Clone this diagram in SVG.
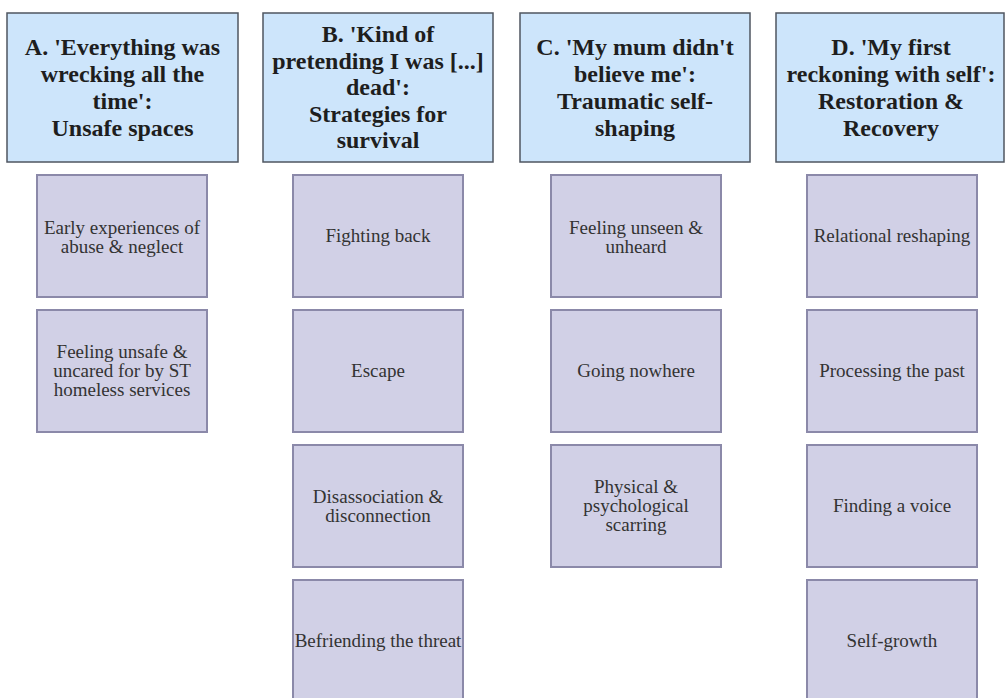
<svg xmlns="http://www.w3.org/2000/svg" width="1005" height="698" viewBox="0 0 1005 698">
<style>
.hdr{fill:#cde5fb;stroke:#4f5660;stroke-width:1.5}
.sub{fill:#d1d0e6;stroke:#8b89a9;stroke-width:2}
.ht{font-family:"Liberation Serif","Times New Roman",serif;font-weight:bold;font-size:24px;fill:#1e1e1e;text-anchor:middle}
.st{font-family:"Liberation Serif","Times New Roman",serif;font-size:19px;fill:#333;text-anchor:middle}
</style>
<rect width="1005" height="698" fill="#ffffff"/>
<g id="headerA"><rect class="hdr" x="7" y="13" width="231" height="149"/>
<text class="ht"><tspan x="122.5" y="55">A. 'Everything was</tspan><tspan x="122.5" y="82">wrecking all the</tspan><tspan x="122.5" y="109">time':</tspan><tspan x="122.5" y="136">Unsafe spaces</tspan></text></g>
<g id="headerB"><rect class="hdr" x="263" y="13" width="230" height="149"/>
<text class="ht"><tspan x="378" y="42">B. 'Kind of</tspan><tspan x="378" y="68.5">pretending I was [...]</tspan><tspan x="378" y="95">dead':</tspan><tspan x="378" y="121.5">Strategies for</tspan><tspan x="378" y="148">survival</tspan></text></g>
<g id="headerC"><rect class="hdr" x="520" y="13" width="230" height="149"/>
<text class="ht"><tspan x="635" y="55">C. 'My mum didn't</tspan><tspan x="635" y="82">believe me':</tspan><tspan x="635" y="109">Traumatic self-</tspan><tspan x="635" y="136">shaping</tspan></text></g>
<g id="headerD"><rect class="hdr" x="776" y="13" width="228" height="149"/>
<text class="ht"><tspan x="891" y="55">D. 'My first</tspan><tspan x="891" y="82">reckoning with self':</tspan><tspan x="891" y="109">Restoration &amp;</tspan><tspan x="891" y="136">Recovery</tspan></text></g>

<g id="A1"><rect class="sub" x="37" y="175" width="170" height="122"/>
<text class="st"><tspan x="122" y="234">Early experiences of</tspan><tspan x="122" y="253">abuse &amp; neglect</tspan></text></g>
<g id="A2"><rect class="sub" x="37" y="310" width="170" height="122"/>
<text class="st"><tspan x="122" y="358">Feeling unsafe &amp;</tspan><tspan x="122" y="377">uncared for by ST</tspan><tspan x="122" y="396">homeless services</tspan></text></g>

<g id="B1"><rect class="sub" x="293" y="175" width="170" height="122"/>
<text class="st" x="378" y="242">Fighting back</text></g>
<g id="B2"><rect class="sub" x="293" y="310" width="170" height="122"/>
<text class="st" x="378" y="377">Escape</text></g>
<g id="B3"><rect class="sub" x="293" y="445" width="170" height="122"/>
<text class="st"><tspan x="378" y="503">Disassociation &amp;</tspan><tspan x="378" y="522">disconnection</tspan></text></g>
<g id="B4"><rect class="sub" x="293" y="580" width="170" height="122"/>
<text class="st" x="378" y="647">Befriending the threat</text></g>

<g id="C1"><rect class="sub" x="551" y="175" width="170" height="122"/>
<text class="st"><tspan x="636" y="234">Feeling unseen &amp;</tspan><tspan x="636" y="253">unheard</tspan></text></g>
<g id="C2"><rect class="sub" x="551" y="310" width="170" height="122"/>
<text class="st" x="636" y="377">Going nowhere</text></g>
<g id="C3"><rect class="sub" x="551" y="445" width="170" height="122"/>
<text class="st"><tspan x="636" y="493">Physical &amp;</tspan><tspan x="636" y="512">psychological</tspan><tspan x="636" y="531">scarring</tspan></text></g>

<g id="D1"><rect class="sub" x="807" y="175" width="170" height="122"/>
<text class="st" x="892" y="242">Relational reshaping</text></g>
<g id="D2"><rect class="sub" x="807" y="310" width="170" height="122"/>
<text class="st" x="892" y="377">Processing the past</text></g>
<g id="D3"><rect class="sub" x="807" y="445" width="170" height="122"/>
<text class="st" x="892" y="512">Finding a voice</text></g>
<g id="D4"><rect class="sub" x="807" y="580" width="170" height="122"/>
<text class="st" x="892" y="647">Self-growth</text></g>

<g id="connectors"></g>
</svg>
